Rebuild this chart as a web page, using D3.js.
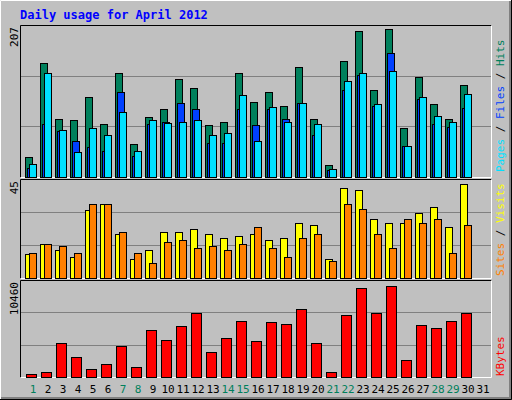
<!DOCTYPE html><html><head><meta charset="utf-8">
<script src="https://cdn.jsdelivr.net/npm/d3@7"></script>
<style>body{margin:0;background:#fff}</style></head><body><svg id="c" width="512" height="400"></svg>
<script>
const days = d3.range(1,32);
const weekend = [1,7,8,14,15,21,22,28,29];
const hits  = [28,156,80,78,109,72,143,45,82,93,134,122,71,76,143,103,116,97,151,80,17,159,200,119,203,67,137,100,80,126,0];
const files = [12,72,63,49,41,35,116,29,72,75,101,93,46,46,93,71,93,79,101,57,9,119,140,97,170,42,107,72,68,94,0];
const pages = [18,143,65,34,67,57,89,35,78,74,76,78,58,61,112,49,96,75,101,72,11,132,143,100,145,43,109,83,76,114,0];
const visits= [10.8,15.5,12.7,9.8,31,33.8,20,8.9,12.7,21,21,22.5,20,18.3,19.2,20,17.3,18.3,25.3,24.4,8.9,41.2,40.3,27.2,25.3,25.3,30,32.8,23.4,43,0];
const sites = [11.7,15.5,14.5,11.7,33.8,33.8,21,11.7,7,16.4,17.3,13.6,14.5,12.7,15.5,23.4,13.6,9.8,18.3,20,8,33.8,31.9,20,13.6,27.2,25.3,27.2,11.7,24.4,0];
const kbytes= [363,580,3740,2215,908,1453,3414,1126,5157,4067,5593,7009,2760,4285,6137,3958,6028,5810,7445,3740,580,6791,9733,7009,9951,1888,5702,5375,6137,7009,0];
const maxTop=207, maxMid=45, maxBot=10460;

const svg=d3.select("#c");
const mono="'DejaVu Sans Mono',monospace";
// background with 3D frame
svg.append("rect").attr("x",0).attr("y",0).attr("width",512).attr("height",400).attr("fill","#C0C0C0");
svg.append("path").attr("d","M0.5,399.5V0.5H511.5").attr("stroke","#fff").attr("fill","none");
svg.append("path").attr("d","M1,399H511V1").attr("stroke","#808080").attr("stroke-width",4).attr("fill","none");
svg.append("path").attr("d","M0,399.5H511.5V0").attr("stroke","#000").attr("fill","none");
svg.append("text").attr("x",20).attr("y",19).attr("font-family",mono).attr("font-weight","bold").attr("font-size",12).attr("fill","#0000FF").text("Daily usage for April 2012");

const x=d3.scaleLinear().domain([1,31]).range([25,475]);
const panels=[{t:25,b:177},{t:179,b:278},{t:280,b:377}];
panels.forEach(p=>{
  svg.append("rect").attr("x",20.5).attr("y",p.t+0.5).attr("width",471).attr("height",p.b-p.t).attr("fill","#C0C0C0").attr("stroke","none");
  svg.append("path").attr("d",`M20.5,${p.b+0.5}V${p.t+0.5}H491.5`).attr("stroke","#000").attr("fill","none");
  svg.append("path").attr("d",`M20.5,${p.b+0.5}H491.5V${p.t+0.5}`).attr("stroke","#fff").attr("fill","none");
  [1/3,2/3].forEach(f=>{const gy=Math.round(p.b-(p.b-p.t)*f)+0.5;
    svg.append("line").attr("x1",21).attr("x2",491).attr("y1",gy).attr("y2",gy).attr("stroke","#808080");});
});
function bars(data,max,p,off,w,color){
  const y=d3.scaleLinear().domain([0,max]).range([p.b,p.t+1]);
  svg.append("g").selectAll("rect").data(data.map((v,i)=>({v,d:i+1})).filter(o=>o.v>0)).join("rect")
   .attr("x",o=>x(o.d)+off+0.5).attr("y",o=>Math.round(y(o.v))+0.5).attr("width",w)
   .attr("height",o=>p.b-Math.round(y(o.v))).attr("fill",color).attr("stroke","#000");
}
bars(hits,maxTop,panels[0],0,7,"#00805C");
bars(files,maxTop,panels[0],2,7,"#0040FF");
bars(pages,maxTop,panels[0],4,7,"#00E0FF");
bars(visits,maxMid,panels[1],0,7,"#FFFF00");
bars(sites,maxMid,panels[1],4,7,"#FF8000");
bars(kbytes,maxBot,panels[2],1,10,"#FF0000");

// y max labels
[[maxTop,panels[0]],[maxMid,panels[1]],[maxBot,panels[2]]].forEach(([v,p])=>{
  svg.append("text").attr("transform",`translate(18,${p.t+2}) rotate(-90)`).attr("text-anchor","end")
   .attr("font-family",mono).attr("font-size",11).attr("fill","#000").text(v);
});
// right labels
function rlabel(parts,yb){
  const t=svg.append("text").attr("transform",`translate(504,${yb}) rotate(-90)`).attr("font-family",mono).attr("font-size",11);
  parts.forEach(([s,c])=>t.append("tspan").attr("fill",c).text(s));
}
rlabel([["Pages","#00E0FF"],[" / ","#000"],["Files","#0040FF"],[" / ","#000"],["Hits","#00805C"]],172);
rlabel([["Sites","#FF8000"],[" / ","#000"],["Visits","#FFFF00"]],276);
rlabel([["KBytes","#FF0000"]],376);
// day labels
svg.append("g").selectAll("text").data(days).join("text")
  .attr("x",d=>x(d)+8).attr("y",393).attr("text-anchor","middle").attr("font-family",mono).attr("font-size",11)
  .attr("fill",d=>weekend.includes(d)?"#00805C":"#000").text(d=>d);
</script></body></html>
